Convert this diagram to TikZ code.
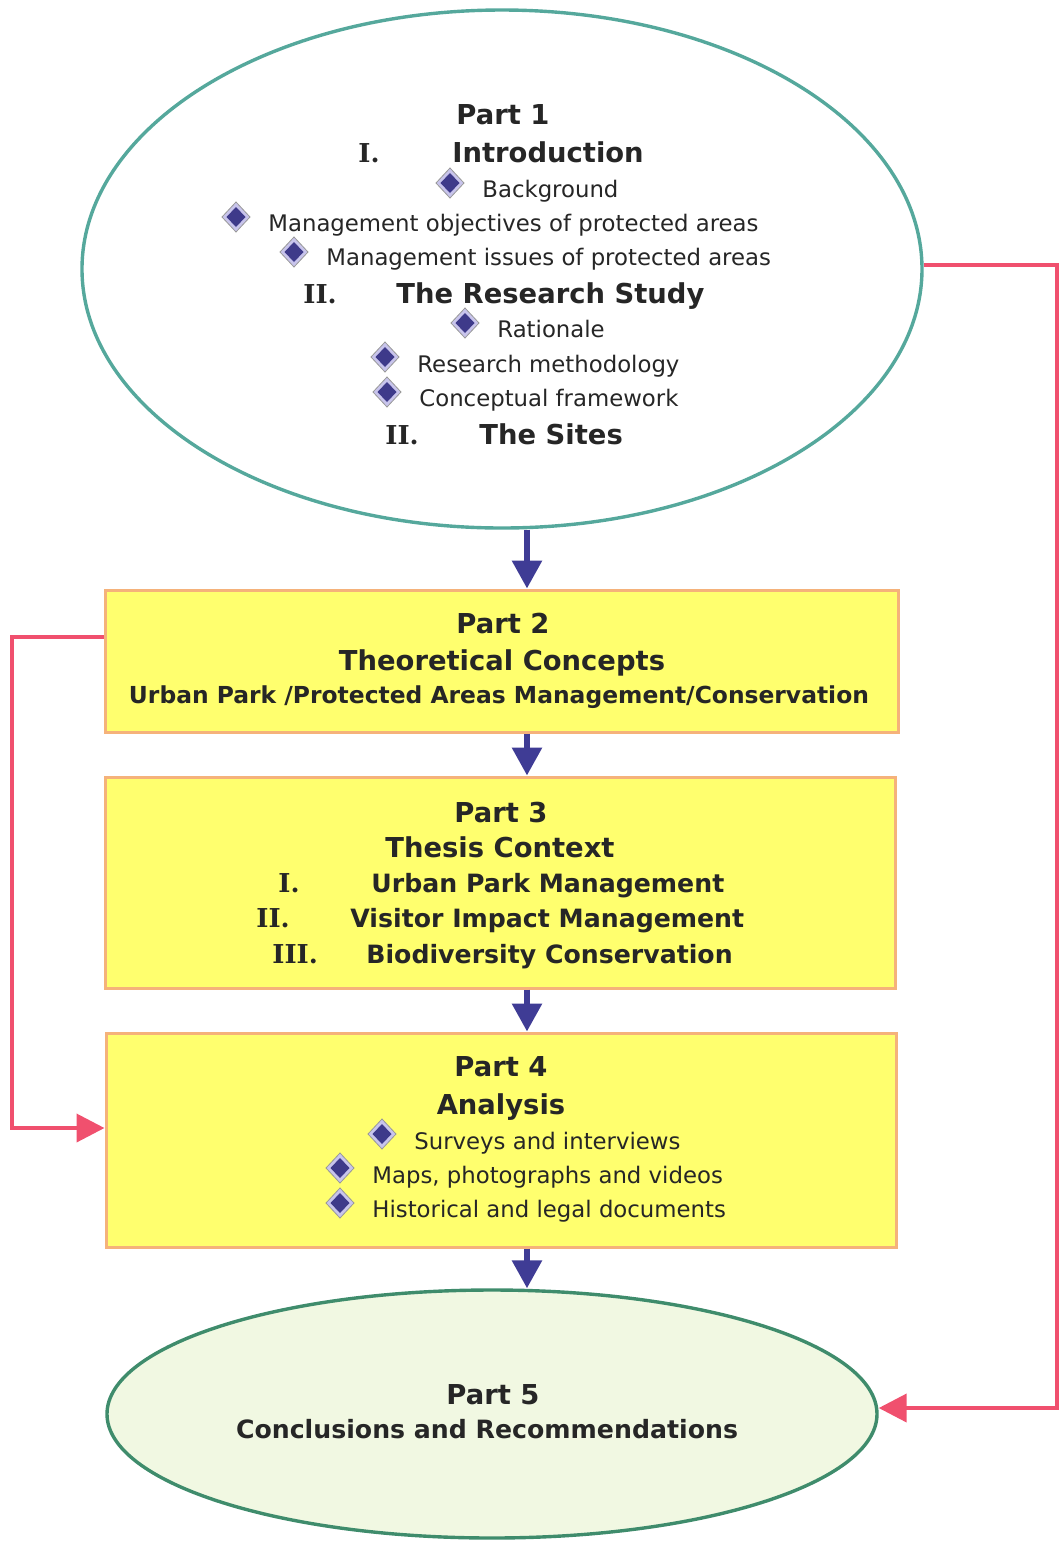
\documentclass[tikz,border=0pt]{standalone}
\usepackage{fontspec}
\setmainfont{DejaVu Sans}
\newfontfamily\numfont{DejaVu Serif}
\usepackage{xcolor}
\usepackage{tikz}
\usetikzlibrary{arrows.meta}
\usetikzlibrary{shapes.geometric}

\definecolor{ink}{HTML}{262626}
\definecolor{rimteal}{HTML}{55A89C}
\definecolor{boxfill}{HTML}{FFFF6E}
\definecolor{boxrim}{HTML}{F5B27A}
\definecolor{flowblue}{HTML}{3F3C95}
\definecolor{backred}{HTML}{F0506E}
\definecolor{endfill}{HTML}{F1F8E2}
\definecolor{endrim}{HTML}{3F8C6C}
\definecolor{gemfill}{HTML}{3E3A8A}
\definecolor{gemrim}{HTML}{C8C4EC}

\begin{document}
\begin{tikzpicture}[
    x=0.5pt, y=-0.5pt,
    txt/.style={inner sep=0pt, text=ink},
    head_lbl/.style={txt, font=\fontsize{13.7}{16}\selectfont\bfseries},
    topic_lbl/.style={txt, font=\fontsize{12.6}{15}\selectfont\bfseries},
    area_lbl/.style={txt, font=\fontsize{11.7}{14}\selectfont\bfseries},
    item_lbl/.style={txt, font=\fontsize{11.4}{14}\selectfont},
    num_lbl/.style={txt, font=\numfont\fontsize{13}{16}\selectfont\bfseries},
    start_oval/.style={ellipse, draw=rimteal, fill=white, line width=1.7pt, inner sep=0pt},
    part_box/.style={rectangle, draw=boxrim, fill=boxfill, line width=1.5pt, inner sep=0pt},
    end_oval/.style={ellipse, draw=endrim, fill=endfill, line width=1.7pt, inner sep=0pt},
    flow/.style={flowblue, line width=3pt, -{Triangle[width=14.5pt, length=14pt]}},
    back/.style={backred, line width=2pt, -{Triangle[width=14pt, length=14pt]}},
    gem/.pic={
      \filldraw[draw=gray!80, fill=gemrim, line width=0.4pt]
        (0,-15) -- (14,0) -- (0,15) -- (-14,0) -- cycle;
      \fill[gemfill] (0,-10) -- (9.5,0) -- (0,10) -- (-9.5,0) -- cycle;
    }
  ]
  \useasboundingbox (0,0) rectangle (1060,1544);

  % shapes
  \node[start_oval, minimum width=420pt, minimum height=259pt] (p1) at (502,269) {};
  \node[part_box, minimum width=396.5pt, minimum height=71pt] (p2) at (501.5,661) {};
  \node[part_box, minimum width=395pt, minimum height=105.5pt] (p3) at (500,882.5) {};
  \node[part_box, minimum width=395pt, minimum height=107pt] (p4) at (501,1140) {};
  \node[end_oval, minimum width=385pt, minimum height=124pt] (p5) at (492,1414) {};

  % connectors
  \coordinate (spine) at (527,0);
  \coordinate (rrail) at (1057,0);
  \coordinate (lrail) at (12,0);
  \draw[flow] (p1.south -| spine) -- (p2.north -| spine);
  \draw[flow] (p2.south -| spine) -- (p3.north -| spine);
  \draw[flow] (p3.south -| spine) -- (p4.north -| spine);
  \draw[flow] (p4.south -| spine) -- (p5.north -| spine);
  \draw[back] ([yshift=2pt]p1.east) -- ([yshift=2pt]p1.east -| rrail)
    -- ([yshift=3pt]p5.east -| rrail) -- ([yshift=3pt]p5.east);
  \draw[back] ([yshift=12pt]p2.west) -- ([yshift=12pt]p2.west -| lrail)
    -- ([yshift=6pt]p4.west -| lrail) -- ([yshift=6pt]p4.west);

  % Part 1
  \node[head_lbl, anchor=base] (p1_title) at (503,124) {Part 1};
  \node[num_lbl, anchor=base west] (p1_n1) at (358,162) {I.};
  \node[head_lbl, anchor=base west] (p1_intro) at (452,162) {Introduction};
  \pic at (450,183) {gem};
  \node[item_lbl, anchor=base west] (p1_bg) at (482,197) {Background};
  \pic at (236,217) {gem};
  \node[item_lbl, anchor=base west] (p1_obj) at (268,231) {Management objectives of protected areas};
  \pic at (294,252) {gem};
  \node[item_lbl, anchor=base west] (p1_iss) at (326,265) {Management issues of protected areas};
  \node[num_lbl, anchor=base west] (p1_n2) at (303,303) {II.};
  \node[head_lbl, anchor=base west] (p1_study) at (396,303) {The Research Study};
  \pic at (465,323) {gem};
  \node[item_lbl, anchor=base west] (p1_rat) at (497,337) {Rationale};
  \pic at (385,357) {gem};
  \node[item_lbl, anchor=base west] (p1_meth) at (417,372) {Research methodology};
  \pic at (387,392) {gem};
  \node[item_lbl, anchor=base west] (p1_frame) at (419,406) {Conceptual framework};
  \node[num_lbl, anchor=base west] (p1_n3) at (385,444) {II.};
  \node[head_lbl, anchor=base west] (p1_sites) at (479,444) {The Sites};

  % Part 2
  \node[head_lbl, anchor=base] (p2_title) at (503,633) {Part 2};
  \node[head_lbl, anchor=base] (p2_sub) at (502,670) {Theoretical Concepts};
  \node[area_lbl, anchor=base] (p2_area) at (499,703) {Urban Park /Protected Areas Management/Conservation};

  % Part 3
  \node[head_lbl, anchor=base] (p3_title) at (501,822) {Part 3};
  \node[head_lbl, anchor=base] (p3_sub) at (500,857) {Thesis Context};
  \node[num_lbl, anchor=base west] (p3_n1) at (278,892) {I.};
  \node[topic_lbl, anchor=base west] (p3_urban) at (371,892) {Urban Park Management};
  \node[num_lbl, anchor=base west] (p3_n2) at (256,927) {II.};
  \node[topic_lbl, anchor=base west] (p3_visit) at (350,927) {Visitor Impact Management};
  \node[num_lbl, anchor=base west] (p3_n3) at (272,963) {III.};
  \node[topic_lbl, anchor=base west] (p3_bio) at (366,963) {Biodiversity Conservation};

  % Part 4
  \node[head_lbl, anchor=base] (p4_title) at (501,1076) {Part 4};
  \node[head_lbl, anchor=base] (p4_sub) at (501,1114) {Analysis};
  \pic at (382,1134) {gem};
  \node[item_lbl, anchor=base west] (p4_surv) at (414,1149) {Surveys and interviews};
  \pic at (340,1168) {gem};
  \node[item_lbl, anchor=base west] (p4_maps) at (372,1183) {Maps, photographs and videos};
  \pic at (340,1203) {gem};
  \node[item_lbl, anchor=base west] (p4_docs) at (372,1217) {Historical and legal documents};

  % Part 5
  \node[head_lbl, anchor=base] (p5_title) at (493,1404) {Part 5};
  \node[topic_lbl, anchor=base] (p5_sub) at (487,1438) {Conclusions and Recommendations};
\end{tikzpicture}
\end{document}
